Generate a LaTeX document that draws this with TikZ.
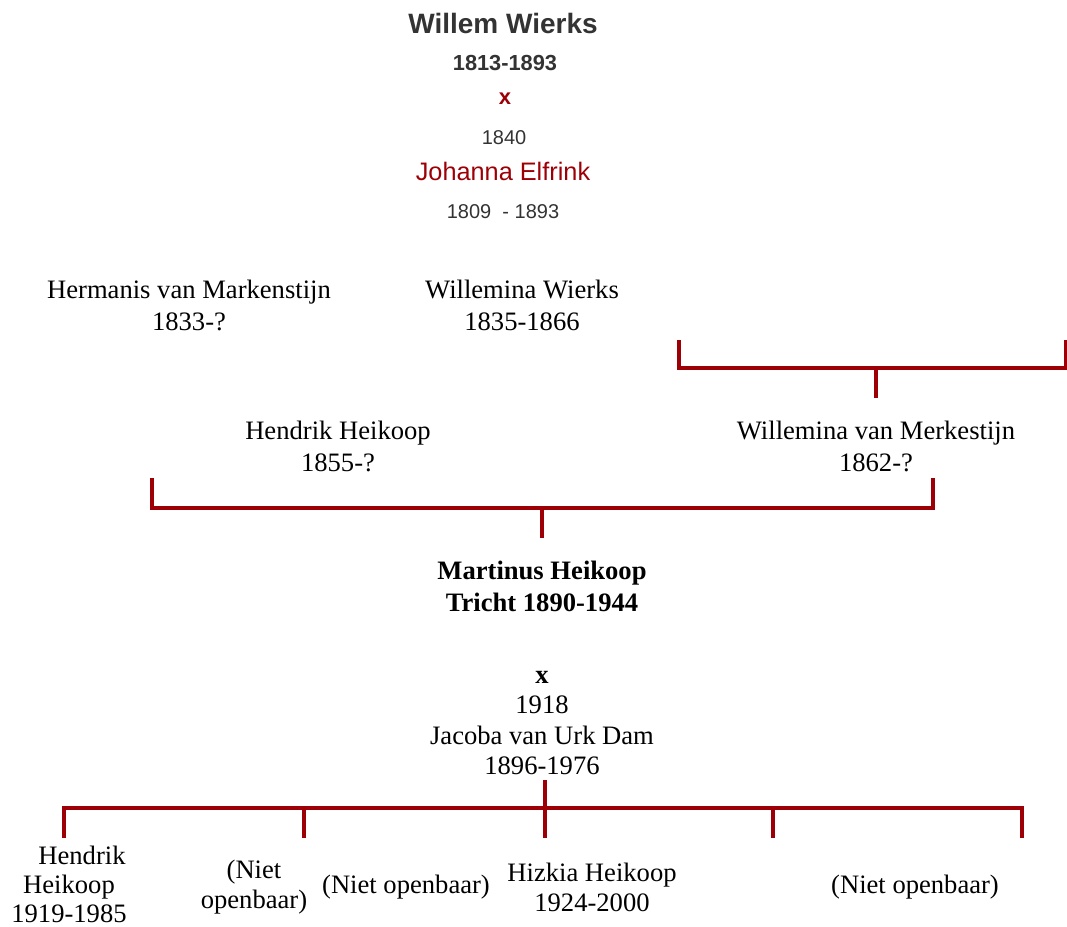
\documentclass[tikz,border=0pt]{standalone}
\usepackage{fontspec}
\setmainfont{Liberation Serif}
\setsansfont{Liberation Sans}
\definecolor{stamred}{HTML}{9C0006}
\definecolor{stamgray}{HTML}{333333}
\tikzset{
  person/.style={align=center,inner sep=0pt,font=\fontsize{26.6}{32}\selectfont},
  kind/.style={align=center,inner sep=0pt,font=\fontsize{26.6}{30}\selectfont},
  kop/.style={inner sep=0pt,text=stamgray},
  tak/.style={draw=stamred,line width=4pt},
}
\begin{document}
\begin{tikzpicture}[x=1pt,y=-1pt]
  \useasboundingbox (0,0) rectangle (1067,926);
  % stamouders
  \node[kop,font=\sffamily\bfseries\fontsize{28}{32}\selectfont] (willem) at (503,23) {Willem Wierks};
  \node[kop,font=\sffamily\bfseries\fontsize{21.8}{26}\selectfont] (willemjr) at (505,63) {1813-1893};
  \node[kop,text=stamred,font=\sffamily\bfseries\fontsize{22}{26}\selectfont] (trouw) at (505,99) {x};
  \node[kop,font=\sffamily\fontsize{20}{24}\selectfont] (trouwjr) at (504,138) {1840};
  \node[kop,text=stamred,font=\sffamily\fontsize{25.3}{30}\selectfont] (johanna) at (503,171) {Johanna Elfrink};
  \node[kop,font=\sffamily\fontsize{20}{24}\selectfont] (johannajr) at (503,212) {1809\ \ - 1893};
  % kinderen en aangetrouwden
  \node[person] (hermanis) at (189,305) {Hermanis van Markenstijn\\1833-?};
  \node[person] (willemina) at (522,305) {Willemina Wierks\\1835-1866};
  \node[person] (hendrik) at (338,446) {Hendrik Heikoop\\1855-?};
  \node[person] (merkestijn) at (876,446) {Willemina van Merkestijn\\1862-?};
  \node[person,font=\bfseries\fontsize{26.6}{32}\selectfont] (martinus) at (542,586) {Martinus Heikoop\\Tricht 1890-1944};
  \node[person,font=\fontsize{26.6}{30.5}\selectfont] (jacoba) at (542,723) {\textbf{x}\\1918\\Jacoba van Urk Dam\\1896-1976};
  % kleinkinderen
  \node[kind,font=\fontsize{26.6}{29}\selectfont] (hendrikjr) at (69,884) {\hspace{26pt}Hendrik\\Heikoop\\1919-1985};
  \node[kind] (niet1) at (254,887) {(Niet\\openbaar)};
  \node[kind] (niet2) at (406,887) {(Niet openbaar)};
  \node[kind] (hizkia) at (592,887) {Hizkia Heikoop\\1924-2000};
  \node[kind] (niet3) at (915,887) {(Niet openbaar)};
  % takken
  \coordinate (b1l) at (679,340);
  \coordinate (b1r) at (1066,340);
  \coordinate (b1m) at (876,368);
  \coordinate (b1s) at (876,398);
  \draw[tak] (b1l) |- (b1r |- b1m) -- (b1r);
  \draw[tak] (b1m) -- (b1s);
  \coordinate (b2l) at (152,478);
  \coordinate (b2r) at (933,478);
  \coordinate (b2m) at (542,508);
  \coordinate (b2s) at (542,538);
  \draw[tak] (b2l) |- (b2r |- b2m) -- (b2r);
  \draw[tak] (b2m) -- (b2s);
  \coordinate (b3t) at (545,780);
  \coordinate (b3m) at (545,808);
  \draw[tak] (64,838) |- (1022,808) -- (1022,838);
  \draw[tak] (b3t) -- (b3m);
  \foreach \x in {304,545,773}
    \draw[tak] (\x,808) -- (\x,838);
\end{tikzpicture}
\end{document}
